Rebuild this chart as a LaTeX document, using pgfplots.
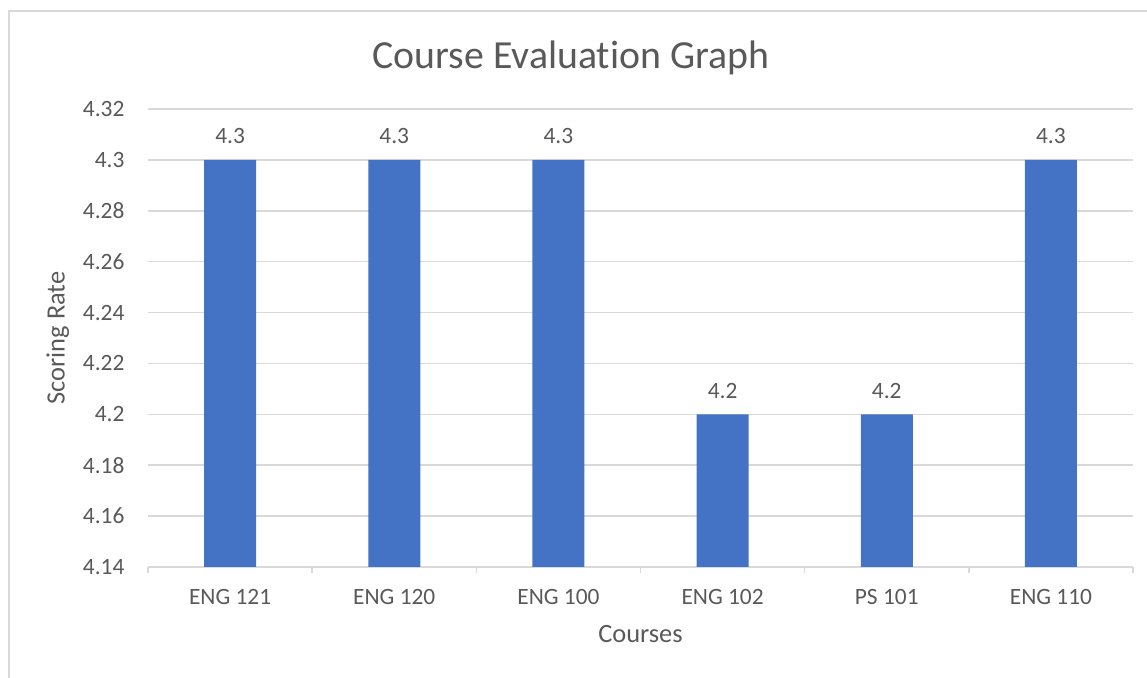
\documentclass[border=0pt]{standalone}
\usepackage{pgfplots}
\pgfplotsset{compat=1.18}
\usepackage{fontspec}
\setmainfont{Carlito}[RawFeature={-liga;-clig;-calt}]
\definecolor{barBlue}{HTML}{4472C4}
\definecolor{gridGray}{HTML}{D9D9D9}
\definecolor{textGray}{HTML}{595959}
\definecolor{frameGray}{HTML}{D9D9D9}

\begin{document}
\begin{tikzpicture}
% 1 px of the reference = 0.5 pt
\useasboundingbox (0pt,0pt) rectangle (573.5pt,-339pt);
\draw[frameGray,line width=0.6pt] (4.5pt,-339pt) -- (4.5pt,-5.5pt) -- (573.5pt,-5.5pt);
\node[textGray,font=\fontsize{19.9}{22}\selectfont] at (285.5pt,-29pt) {Course Evaluat\kern0pt ion Graph};
\begin{axis}[
  at={(74pt,-283.5pt)},anchor=south west,
  scale only axis,width=492.5pt,height=229pt,
  ybar,bar width=26pt,
  ymin=4.14,ymax=4.32,ytick={4.14,4.16,...,4.33},
  xmin=-0.5,xmax=5.5,
  xtick={0,...,5},
  xticklabels={ENG 121,ENG 120,ENG 100,ENG 102,PS 101,ENG 110},
  minor xtick={-0.5,0.5,...,5.5},
  major x tick style={draw=none},
  minor x tick style={draw=gridGray,line width=0.8pt},
  minor tick length=3pt,
  tick align=outside,xtick pos=bottom,
  ytick style={draw=none},
  axis y line*=left,y axis line style={draw=none},
  axis x line*=bottom,x axis line style={draw=gridGray,line width=0.8pt},
  axis line style={-},
  ymajorgrids,grid style={gridGray,line width=0.8pt},
  /pgf/number format/assume math mode=true,
  ticklabel style={textGray,font=\fontsize{11.7}{13}\selectfont},
  yticklabel style={xshift=-4pt},
  xticklabel style={yshift=-3.5pt},
  xlabel={Courses},ylabel={Scoring Rate},
  label style={textGray,font=\fontsize{13.2}{15}\selectfont},
  xlabel style={yshift=-3.5pt},
  nodes near coords,
  nodes near coords style={textGray,font=\fontsize{11.7}{13}\selectfont,yshift=4.5pt,
    /pgf/number format/fixed,/pgf/number format/precision=1,/pgf/number format/assume math mode=true},
  clip=false,
]
\addplot[fill=barBlue,draw=none] coordinates {(0,4.3) (1,4.3) (2,4.3) (3,4.2) (4,4.2) (5,4.3)};
\end{axis}
\end{tikzpicture}
\end{document}
